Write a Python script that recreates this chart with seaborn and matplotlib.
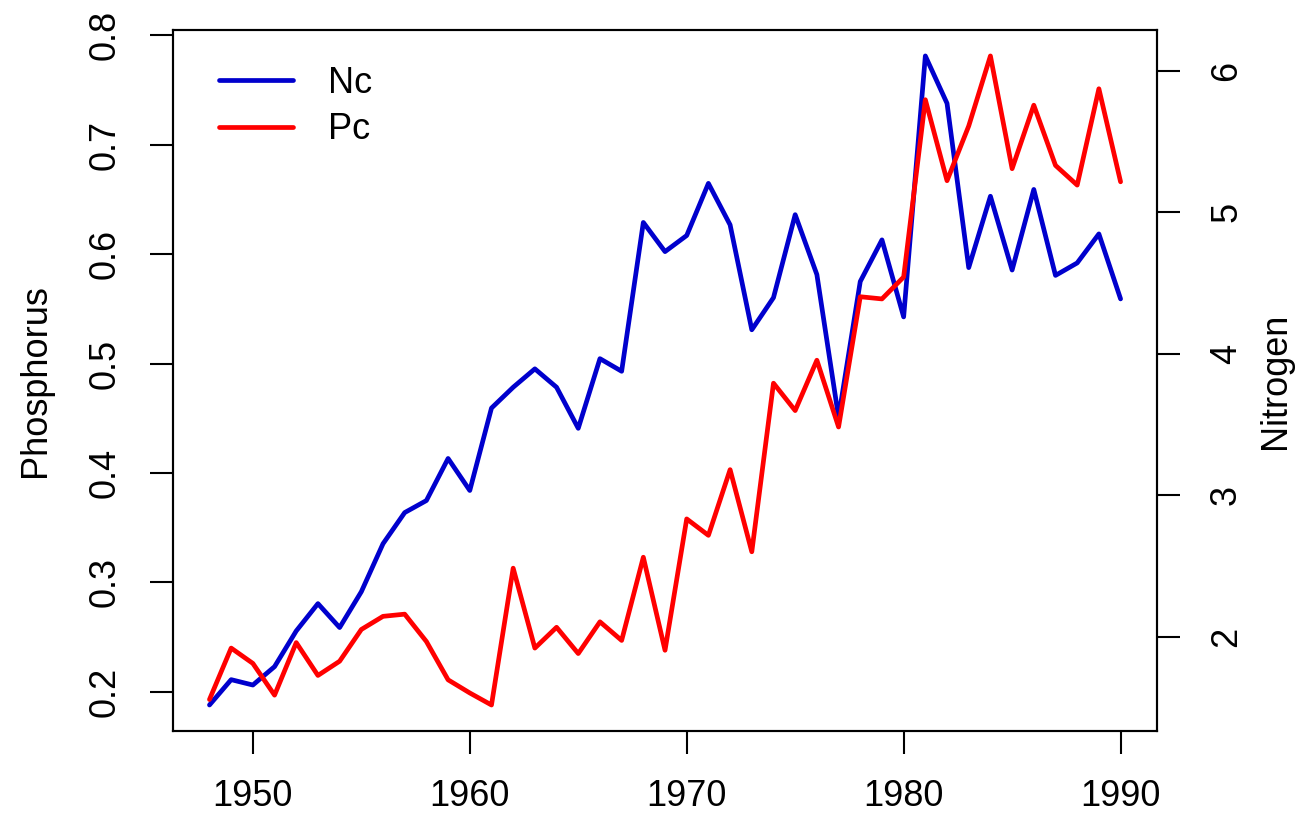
import numpy as np
import pandas as pd
import matplotlib
matplotlib.use("Agg")
import matplotlib.pyplot as plt
import seaborn as sns
from matplotlib.lines import Line2D

# Annual concentrations, 1948-1990
years = list(range(1948, 1991))
pc = [0.193, 0.240, 0.226, 0.197, 0.245, 0.215, 0.228, 0.257, 0.269, 0.271,
      0.246, 0.211, 0.199, 0.188, 0.313, 0.240, 0.259, 0.235, 0.264, 0.247,
      0.323, 0.238, 0.358, 0.343, 0.403, 0.328, 0.482, 0.457, 0.503, 0.442,
      0.561, 0.559, 0.579, 0.741, 0.667, 0.717, 0.781, 0.678, 0.736, 0.681,
      0.663, 0.751, 0.666]
nc = [1.519, 1.698, 1.660, 1.790, 2.042, 2.235, 2.066, 2.319, 2.658, 2.878,
      2.963, 3.260, 3.034, 3.616, 3.763, 3.893, 3.763, 3.473, 3.965, 3.876,
      4.927, 4.721, 4.835, 5.203, 4.910, 4.169, 4.396, 4.982, 4.559, 3.551,
      4.510, 4.804, 4.260, 6.103, 5.768, 4.608, 5.112, 4.591, 5.160, 4.553,
      4.641, 4.846, 4.387]
x_ticks = [1950, 1960, 1970, 1980, 1990]
p_ticks = [0.2, 0.3, 0.4, 0.5, 0.6, 0.7, 0.8]
n_ticks = [2, 3, 4, 5, 6]

df = pd.DataFrame({"year": years, "Pc": pc, "Nc": nc})

sns.set_theme(style="ticks")
plt.rcParams["font.family"] = ["Liberation Sans", "DejaVu Sans"]
plt.rcParams["text.color"] = "black"
plt.rcParams["axes.labelcolor"] = "black"

BLUE = "#0000CD"
RED = "#FF0000"
FS = 26
LW = 3.4


def padded(lo, hi, frac=0.04):
    r = hi - lo
    return lo - frac * r, hi + frac * r


fig = plt.figure(figsize=(12.99, 8.19), dpi=100)
ax = fig.add_axes([0.1332, 0.1075, 0.7575, 0.8559])
ax2 = ax.twinx()

# Nitrogen on the right axis, phosphorus on the left (drawn on top)
sns.lineplot(data=df, x="year", y="Nc", ax=ax2, color=BLUE, linewidth=LW)
sns.lineplot(data=df, x="year", y="Pc", ax=ax, color=RED, linewidth=LW)
ax.set_zorder(ax2.get_zorder() + 1)
ax.patch.set_visible(False)

ax.set_xlim(*padded(min(years), max(years)))
ax.set_ylim(*padded(min(pc), max(pc)))
ax2.set_ylim(*padded(min(nc), max(nc)))

ax.set_xticks(x_ticks)
ax.set_xticklabels([str(v) for v in x_ticks])
ax.set_yticks(p_ticks)
ax.set_yticklabels([f"{v:.1f}" for v in p_ticks], rotation=90, va="center")
ax2.set_yticks(n_ticks)
ax2.set_yticklabels([str(v) for v in n_ticks], rotation=90, va="center")

for a in (ax, ax2):
    for s in a.spines.values():
        s.set_visible(True)
        s.set_color("black")
        s.set_linewidth(1.5)
    a.tick_params(colors="black", labelsize=FS, length=16.5, width=1.5,
                  direction="out")
    a.grid(False)
ax.tick_params(axis="x", pad=18)
ax.tick_params(axis="y", pad=20)
ax2.tick_params(axis="y", pad=21)

ax.set_xlabel("")
ax.set_ylabel("Phosphorus", fontsize=FS, labelpad=25, color="black")
ax2.set_ylabel("Nitrogen", fontsize=FS, labelpad=10, color="black",
               rotation=90)

handles = [Line2D([], [], color=BLUE, linewidth=LW),
           Line2D([], [], color=RED, linewidth=LW)]
leg = ax.legend(handles, ["Nc", "Pc"], loc="upper left",
                bbox_to_anchor=(0.047, 0.949), frameon=False, fontsize=FS,
                handlelength=2.05, handletextpad=0.97, labelspacing=0.32,
                borderpad=0, borderaxespad=0)
for t in leg.get_texts():
    t.set_color("black")

fig.savefig("out.png", dpi=100)
